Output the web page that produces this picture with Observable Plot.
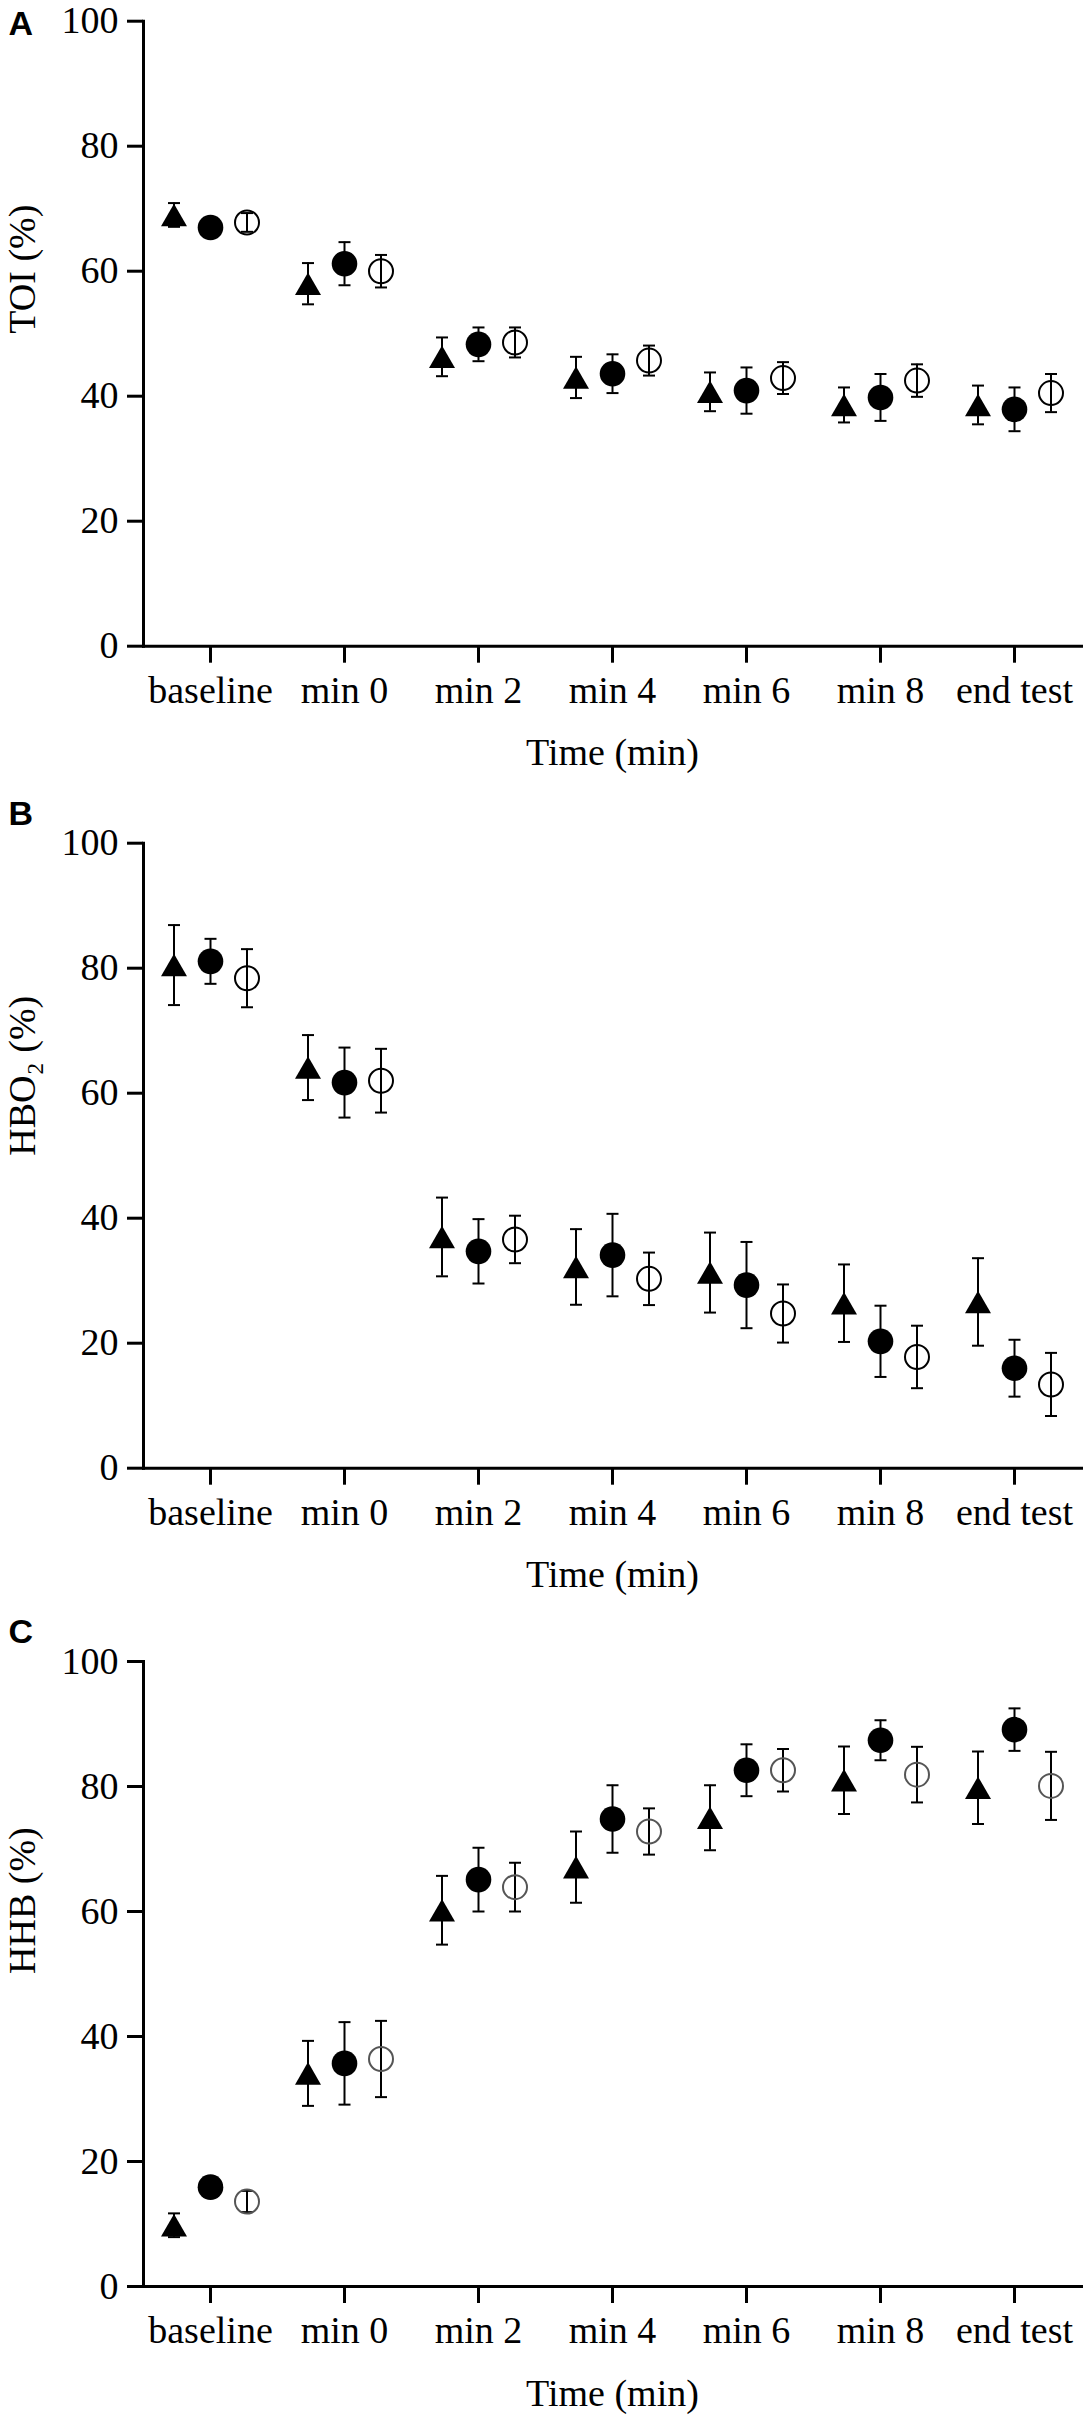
<!DOCTYPE html>
<html>
<head>
<meta charset="utf-8">
<script src="https://cdn.jsdelivr.net/npm/d3@7"></script>
<script src="https://cdn.jsdelivr.net/npm/@observablehq/plot@0.6"></script>
<style>
  body { margin: 0; background: #fff; }
  #chart svg { display: block; font-family: 'Liberation Serif', 'Times New Roman', serif !important; }
  #chart svg text { font-family: 'Liberation Serif', 'Times New Roman', serif !important; }
  #chart svg text.letter { font-family: 'Liberation Sans', Arial, sans-serif !important; }
</style>
</head>
<body>
<div id="chart"></div>
<script>
// ---- data ----
const categories = ["baseline", "min 0", "min 2", "min 4", "min 6", "min 8", "end test"];
const yTicks = [0, 20, 40, 60, 80, 100];

// Panel A: TOI (%)
const toiTriangle = [69.0, 58.0, 46.3, 43.0, 40.7, 38.6, 38.6];
const toiTriangleSd = [1.9, 3.3, 3.1, 3.3, 3.1, 2.8, 3.1];
const toiFilled = [67.0, 61.2, 48.3, 43.6, 40.9, 39.8, 37.9];
const toiFilledSd = [1.5, 3.45, 2.7, 3.1, 3.7, 3.75, 3.5];
const toiOpen = [67.8, 60.0, 48.6, 45.7, 42.9, 42.5, 40.5];
const toiOpenSd = [1.5, 2.6, 2.4, 2.4, 2.55, 2.6, 3.05];

// Panel B: HBO2 (%)
const hbo2Triangle = [80.5, 64.1, 37.0, 32.2, 31.3, 26.4, 26.6];
const hbo2TriangleSd = [6.4, 5.2, 6.3, 6.05, 6.4, 6.2, 7.0];
const hbo2Filled = [81.1, 61.7, 34.7, 34.1, 29.3, 20.3, 16.0];
const hbo2FilledSd = [3.6, 5.6, 5.15, 6.6, 6.9, 5.7, 4.55];
const hbo2Open = [78.4, 62.0, 36.6, 30.3, 24.75, 17.8, 13.4];
const hbo2OpenSd = [4.65, 5.1, 3.8, 4.2, 4.65, 5.0, 5.05];

// Panel C: HHB (%)
const hhbTriangle = [9.8, 34.1, 60.2, 67.1, 75.0, 81.0, 79.8];
const hhbTriangleSd = [1.9, 5.2, 5.5, 5.7, 5.2, 5.4, 5.8];
const hhbFilled = [15.9, 35.7, 65.1, 74.8, 82.6, 87.4, 89.1];
const hhbFilledSd = [1.5, 6.6, 5.1, 5.4, 4.15, 3.2, 3.4];
const hhbOpen = [13.6, 36.4, 63.9, 72.8, 82.6, 81.9, 80.1];
const hhbOpenSd = [1.7, 6.1, 3.9, 3.7, 3.4, 4.45, 5.45];

// ---- helpers ----
function rows(means, sds) {
  return categories.map((c, i) => ({time: c, mean: means[i], lo: means[i] - sds[i], hi: means[i] + sds[i]}));
}
const capSymbol = {
  draw(context) { context.moveTo(-6, 0); context.lineTo(6, 0); }
};
const serif = "'Liberation Serif', 'Times New Roman', serif";
const sans = "'Liberation Sans', Arial, sans-serif";

function errorMarks(data, dx) {
  return [
    Plot.ruleX(data, {x: "time", y1: "lo", y2: "hi", dx, stroke: "black", strokeWidth: 2}),
    Plot.dot(data, {x: "time", y: "hi", dx, symbol: capSymbol, stroke: "black", strokeWidth: 2, fill: "none"}),
    Plot.dot(data, {x: "time", y: "lo", dx, symbol: capSymbol, stroke: "black", strokeWidth: 2, fill: "none"})
  ];
}

function panel(cfg) {
  const tri = rows(cfg.tri, cfg.triSd);
  const fil = rows(cfg.fil, cfg.filSd);
  const opn = rows(cfg.opn, cfg.opnSd);
  return Plot.plot({
    width: 1087,
    height: cfg.height,
    marginLeft: 143,
    marginRight: 6,
    marginTop: cfg.marginTop,
    marginBottom: cfg.marginBottom,
    style: {fontFamily: serif, fontSize: "38px", background: "white", color: "black", overflow: "visible"},
    x: {type: "band", domain: categories, padding: 0},
    y: {domain: [0, 100]},
    marks: [
      Plot.axisY({ticks: yTicks, tickSize: 16, tickPadding: 9, strokeWidth: 3, fontSize: 38, fontFamily: serif, label: null}),
      Plot.axisX({tickSize: 17, tickPadding: 13, strokeWidth: 3, fontSize: 38, fontFamily: serif, label: null}),
      Plot.frame({anchor: "left", strokeWidth: 3}),
      Plot.frame({anchor: "bottom", strokeWidth: 3}),
      ...errorMarks(tri, -36.5),
      ...errorMarks(fil, 0),
      ...errorMarks(opn, 36.5),
      Plot.dot(tri, {x: "time", y: "mean", dx: -36.5, dy: 3.75, symbol: "triangle", r: 9.65, fill: "black", stroke: "none"}),
      Plot.dot(fil, {x: "time", y: "mean", r: 12.8, fill: "black", stroke: "none"}),
      Plot.dot(opn, {x: "time", y: "mean", dx: 36.5, r: 12, fill: "none", stroke: cfg.openStroke, strokeWidth: 2}),
      Plot.text(["Time (min)"], {frameAnchor: "bottom", dy: 119, fontSize: 38, fontFamily: serif}),
      Plot.text([cfg.yLabel], {frameAnchor: "left", rotate: -90, dx: -121, fontSize: 38, fontFamily: serif}),
      Plot.text([cfg.letter], {frameAnchor: "top-left", textAnchor: "start", lineAnchor: "top", dx: -135, dy: cfg.letterDy, fontFamily: sans, fontWeight: "bold", fontSize: 34})
    ]
  });
}

const chart = document.getElementById("chart");
chart.append(panel({
  height: 795, marginTop: 20.7, marginBottom: 149.3, letter: "A", letterDy: -10.7, yLabel: "TOI (%)",
  tri: toiTriangle, triSd: toiTriangleSd, fil: toiFilled, filSd: toiFilledSd, opn: toiOpen, opnSd: toiOpenSd,
  openStroke: "black"
}));
chart.append(panel({
  height: 815, marginTop: 47.7, marginBottom: 142.3, letter: "B", letterDy: -42.7, yLabel: "HBO₂ (%)",
  tri: hbo2Triangle, triSd: hbo2TriangleSd, fil: hbo2Filled, filSd: hbo2FilledSd, opn: hbo2Open, opnSd: hbo2OpenSd,
  openStroke: "black"
}));
chart.append(panel({
  height: 823, marginTop: 51, marginBottom: 147, letter: "C", letterDy: -42.7, yLabel: "HHB (%)",
  tri: hhbTriangle, triSd: hhbTriangleSd, fil: hhbFilled, filSd: hhbFilledSd, opn: hhbOpen, opnSd: hhbOpenSd,
  openStroke: "#555"
}));
// force fonts on every text element: serif everywhere, bold sans for the panel letters
chart.querySelectorAll("svg text").forEach(t => {
  if (["A", "B", "C"].includes(t.textContent.trim())) {
    t.classList.add("letter");
    t.style.setProperty("font-family", sans, "important");
  } else {
    t.style.setProperty("font-family", serif, "important");
  }
});
</script>
</body>
</html>
